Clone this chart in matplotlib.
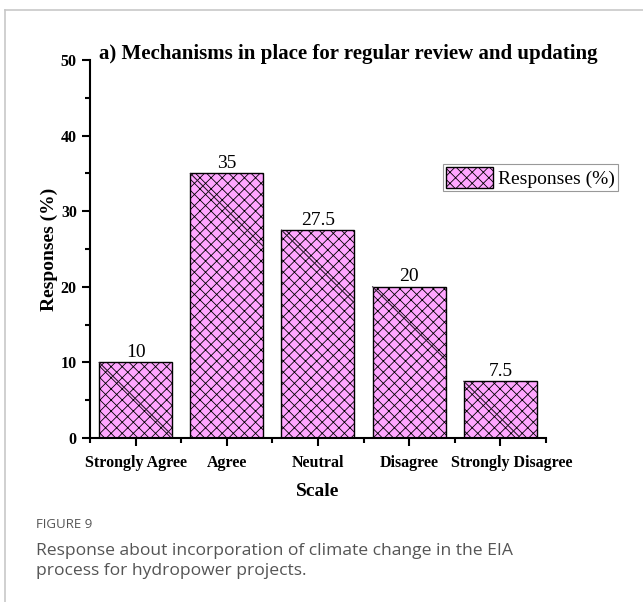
import numpy as np
import matplotlib.pyplot as plt
import matplotlib.transforms as mtransforms
from matplotlib.lines import Line2D

plt.rcParams['hatch.color'] = '#654565'
plt.rcParams['hatch.linewidth'] = 0.6

categorias = ['Strongly Agree', 'Agree', 'Neutral', 'Disagree', 'Strongly Disagree']
respostas = [10, 35, 27.5, 20, 7.5]
rotulos = ['10', '35', '27.5', '20', '7.5']

serif = ['Liberation Serif', 'DejaVu Serif']
sans = ['Open Sans', 'Noto Sans', 'DejaVu Sans']

W, H = 643, 602
pos = [0.140, 0.2724, 0.709, 0.628]
fig = plt.figure(figsize=(W / 100, H / 100), dpi=100)
ax = fig.add_axes(pos)

x = np.arange(1, len(categorias) + 1)
largura = 0.8
ymax = 50
ax.bar(x, respostas, width=largura, color='#ffa6ff', edgecolor='black',
       linewidth=1.0, hatch='xxx', label='Responses (%)', zorder=2)

# a linha diagonal (45 graus em pixels) que o Origin desenha dentro de cada barra
px_x = pos[2] * W / 5.0      # pixels por unidade em x
px_y = pos[3] * H / ymax     # pixels por unidade em y
dy_full = largura * px_x / px_y
for xi, h in zip(x, respostas):
    x0 = xi - largura / 2
    if h >= dy_full:
        ax.plot([x0, x0 + largura], [h, h - dy_full], color='#2a1a2a', lw=0.8, zorder=3)
    else:
        ax.plot([x0, x0 + largura * h / dy_full], [h, 0], color='#2a1a2a', lw=0.8, zorder=3)

for xi, h, r in zip(x, respostas, rotulos):
    ax.text(xi, h + 0.2, r, ha='center', va='bottom', fontsize=14, family=serif)

ax.set_xlim(0.5, 5.5)
ax.set_ylim(0, ymax)
ax.set_yticks([0, 10, 20, 30, 40, 50])
ax.set_yticks(np.arange(5, 50, 10), minor=True)
ax.set_xticks(x)
ax.set_xticks(np.arange(0.5, 6.0, 1.0), minor=True)
ax.set_xticklabels(categorias)

ax.tick_params(which='major', direction='out', length=6, width=1.5)
ax.tick_params(axis='x', which='major', pad=6)
ax.tick_params(which='minor', direction='out', length=3.5, width=1.5)

for lab in ax.get_xticklabels() + ax.get_yticklabels():
    lab.set_family(serif)
    lab.set_fontweight('bold')
    lab.set_fontsize(11.5)
# o último rótulo fica um pouco deslocado para a direita, como no original
ultimo = ax.xaxis.get_major_ticks()[-1].label1
ultimo.set_transform(ultimo.get_transform() +
                     mtransforms.ScaledTranslation(11 / 100, 0, fig.dpi_scale_trans))

ax.spines['top'].set_visible(False)
ax.spines['right'].set_visible(False)
ax.spines['left'].set_linewidth(1.5)
ax.spines['bottom'].set_linewidth(1.5)

ax.set_xlabel('Scale', family=serif, fontweight='bold', fontsize=14, labelpad=9)
ax.set_ylabel('Responses (%)', family=serif, fontweight='bold', fontsize=14, labelpad=2)
ax.set_title('a) Mechanisms in place for regular review and updating', family=serif,
             fontweight='bold', fontsize=15, loc='left', x=0.02, y=1.0, pad=1)

leg = ax.legend(loc='upper right', bbox_to_anchor=(1.18, 0.75), fancybox=False,
                prop={'family': serif, 'size': 14}, handlelength=2.4, handleheight=1.3,
                borderpad=0.15, handletextpad=0.3, framealpha=1, edgecolor='#999999')
leg.get_frame().set_linewidth(0.8)

# moldura da página
fig.add_artist(Line2D([5 / W, 1], [1 - 10 / H, 1 - 10 / H], color='#c8c8c8', lw=1.2))
fig.add_artist(Line2D([5 / W, 5 / W], [0, 1 - 10 / H], color='#c8c8c8', lw=1.2))

fig.text(36 / W, 1 - 524 / H, 'FIGURE 9', family=sans, fontsize=9.5, color='#555555', va='center')
fig.text(36 / W, 1 - 561 / H,
         'Response about incorporation of climate change in the EIA\nprocess for hydropower projects.',
         family=sans, fontsize=12.6, color='#555555', va='center', linespacing=1.4)

fig.savefig('out.png', dpi=100)
